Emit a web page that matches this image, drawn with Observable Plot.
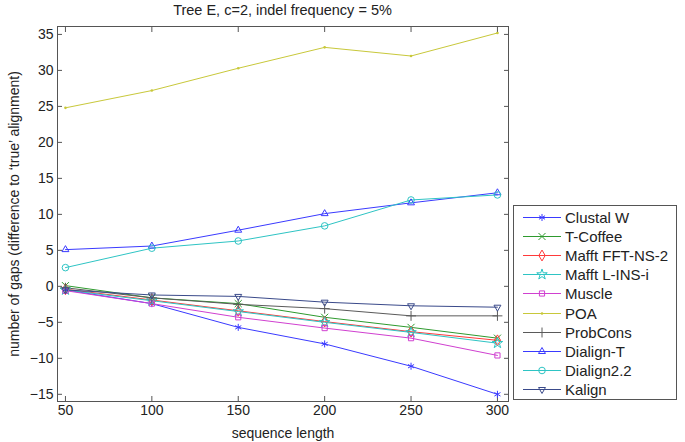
<!DOCTYPE html>
<html>
<head>
<meta charset="utf-8">
<script src="https://cdn.jsdelivr.net/npm/d3@7"></script>
<script src="https://cdn.jsdelivr.net/npm/@observablehq/plot@0.6"></script>
<style>
  html, body { margin: 0; padding: 0; background: #fff; }
  #wrap { position: relative; width: 685px; height: 442px; font-family: "Liberation Sans", Arial, sans-serif; color: #222; }
  #title { position: absolute; left: 57px; top: 0; width: 451px; height: 20px; line-height: 20px; font-size: 14.5px; text-align: center; }
  #chart { position: absolute; left: 0; top: 20px; }
  #legend { position: absolute; left: 513px; top: 205px; width: 164px; height: 195px; border: 1px solid #555; background: #fff; padding-top: 2px; box-sizing: border-box; }
  .row { height: 19.1px; display: flex; align-items: center; font-size: 15px; white-space: nowrap; }
  .row svg { flex: none; }
</style>
</head>
<body>
<div id="wrap">
  <div id="title">Tree E, c=2, indel frequency = 5%</div>
  <div id="chart"></div>
  <div id="legend"></div>
</div>
<script>
// ---- data ----
const lengths = [50, 100, 150, 200, 250, 300];
const names = ["Clustal W", "T-Coffee", "Mafft FFT-NS-2", "Mafft L-INS-i", "Muscle", "POA", "ProbCons", "Dialign-T", "Dialign2.2", "Kalign"];
const clustalW   = [-0.5, -2.4, -5.7, -8.0, -11.1, -15.0];
const tCoffee    = [0.1, -1.6, -2.4, -4.3, -5.7, -7.2];
const mafftFFT   = [-0.4, -1.9, -3.4, -4.9, -6.3, -7.5];
const mafftLINSi = [-0.5, -2.0, -3.5, -5.0, -6.4, -7.9];
const muscle     = [-0.6, -2.4, -4.3, -5.8, -7.2, -9.6];
const poa        = [24.8, 27.2, 30.3, 33.2, 32.0, 35.2];
const probCons   = [-0.2, -1.6, -2.5, -3.1, -4.1, -4.1];
const dialignT   = [5.1, 5.6, 7.8, 10.1, 11.6, 13.0];
const dialign22  = [2.6, 5.3, 6.3, 8.4, 12.0, 12.7];
const kalign     = [-0.5, -1.2, -1.4, -2.2, -2.7, -2.9];
const xTicks = [50, 100, 150, 200, 250, 300];
const yTicks = [-15, -10, -5, 0, 5, 10, 15, 20, 25, 30, 35];

// ---- styles ----
const colors = ["#3a3aff", "#2e9a2e", "#ff3a3a", "#2ec4c4", "#d040d0", "#c8c83a", "#5a5a5a", "#3a3aff", "#2ec4c4", "#3a4a8a"];
const triangleDown = {
  draw(context, size) {
    const s = Math.sqrt(size) * 0.6824, t = s / 2, u = s * Math.sqrt(3) / 2;
    context.moveTo(0, s); context.lineTo(u, -t); context.lineTo(-u, -t); context.closePath();
  }
};
const symbols = [d3.symbolAsterisk, d3.symbolTimes, d3.symbolDiamond, d3.symbolStar, d3.symbolSquare2, d3.symbolCircle, d3.symbolPlus, d3.symbolTriangle2, d3.symbolCircle, triangleDown];

const series = [clustalW, tCoffee, mafftFFT, mafftLINSi, muscle, poa, probCons, dialignT, dialign22, kalign];
const data = names.flatMap((name, i) => lengths.map((len, j) => ({name, length: len, gaps: series[i][j]})));
const R = 3.3;

const chart = Plot.plot({
  width: 685,
  height: 422,
  marginLeft: 57,
  marginRight: 177,
  marginTop: 6,
  marginBottom: 41,
  style: {fontFamily: "Liberation Sans, Arial, sans-serif", fontSize: "14px", color: "#222", background: "#fff", overflow: "visible"},
  x: {domain: [45.4, 306.4]},
  y: {domain: [-16, 36.1]},
  color: {domain: names, range: colors},
  symbol: {domain: names, range: symbols},
  marks: [
    Plot.frame({stroke: "#555"}),
    Plot.axisX({anchor: "bottom", ticks: xTicks, tickSize: -5, tickPadding: 9, stroke: "#555", label: "sequence length", labelAnchor: "center", labelArrow: "none", labelOffset: 36}),
    Plot.axisX({anchor: "top", ticks: xTicks, tickSize: -5, stroke: "#555", tickFormat: () => "", label: null}),
    Plot.axisY({anchor: "left", ticks: yTicks, tickSize: -5, tickPadding: 9, stroke: "#555", label: "number of gaps (difference to ‘true’ alignment)", labelAnchor: "center", labelArrow: "none", labelOffset: 48}),
    Plot.axisY({anchor: "right", ticks: yTicks, tickSize: -5, stroke: "#555", tickFormat: () => "", label: null}),
    Plot.line(data, {x: "length", y: "gaps", z: "name", stroke: "name", strokeWidth: 1}),
    Plot.dot(data.filter(d => d.name !== "POA"), {x: "length", y: "gaps", stroke: "name", symbol: "name", fill: "none", r: R, strokeWidth: 1}),
    Plot.dot(data.filter(d => d.name === "POA"), {x: "length", y: "gaps", fill: "name", stroke: null, r: 1.3})
  ]
});
document.getElementById("chart").appendChild(chart);

// ---- legend ----
const legend = document.getElementById("legend");
names.forEach((name, i) => {
  const row = document.createElement("div");
  row.className = "row";
  const size = Math.PI * R * R;
  const sym = name === "POA"
    ? `<circle cx="28" cy="9.5" r="1.3" fill="${colors[i]}"/>`
    : `<path transform="translate(28,9.5)" d="${d3.symbol(symbols[i], size)()}" fill="none" stroke="${colors[i]}" stroke-width="1"/>`;
  row.innerHTML = `<svg width="51" height="19"><line x1="9" x2="47" y1="9.5" y2="9.5" stroke="${colors[i]}" stroke-width="1"/>${sym}</svg><span>${name}</span>`;
  legend.appendChild(row);
});
</script>
</body>
</html>
